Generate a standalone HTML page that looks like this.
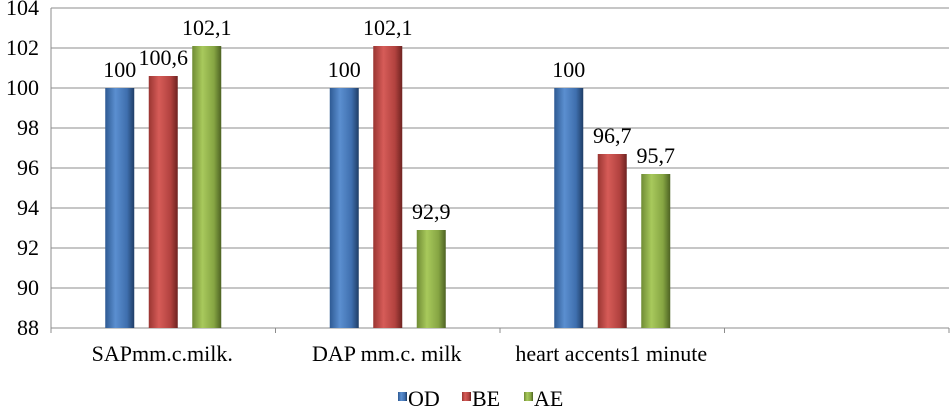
<!DOCTYPE html>
<html><head><meta charset="utf-8"><style>
body{margin:0;background:#fff}
svg{display:block;font-family:"Liberation Serif",serif}
</style></head><body>
<svg id="chart" width="951" height="407" viewBox="0 0 951 407" xmlns="http://www.w3.org/2000/svg">
<defs>
<linearGradient id="gOD" x1="0" x2="1"><stop offset="0" stop-color="#2e5a93"/><stop offset="0.35" stop-color="#5b8fd0"/><stop offset="0.75" stop-color="#3f6fae"/><stop offset="1" stop-color="#1f3d66"/></linearGradient>
<linearGradient id="gBE" x1="0" x2="1"><stop offset="0" stop-color="#9a3532"/><stop offset="0.35" stop-color="#d65c58"/><stop offset="0.75" stop-color="#b2423f"/><stop offset="1" stop-color="#6e2321"/></linearGradient>
<linearGradient id="gAE" x1="0" x2="1"><stop offset="0" stop-color="#6f8b34"/><stop offset="0.35" stop-color="#a8c95c"/><stop offset="0.75" stop-color="#86a543"/><stop offset="1" stop-color="#4d6223"/></linearGradient>
</defs>
<g id="grid"></g><g id="bars"></g><g id="labels"></g>
<g font-size="22">
<rect x="398" y="392" width="9" height="9" fill="url(#gOD)"/>
<text x="408" y="406">OD</text>
<rect x="462" y="392" width="9" height="9" fill="url(#gBE)"/>
<text x="472" y="406">BE</text>
<rect x="524" y="392" width="9" height="9" fill="url(#gAE)"/>
<text x="534" y="406">AE</text>
</g>
</svg>
<script>
const categories=["SAPmm.c.milk.","DAP mm.c. milk","heart accents1 minute",""];
const seriesNames=["OD","BE","AE"];
const odValues=[100,100,100,null];
const beValues=[100.6,102.1,96.7,null];
const aeValues=[102.1,92.9,95.7,null];
const valueLabels=[["100","100,6","102,1"],["100","102,1","92,9"],["100","96,7","95,7"]];
const yTicks=[88,90,92,94,96,98,100,102,104];
const NS="http://www.w3.org/2000/svg";
const L=51,R=949,T=8,B=328,yMin=88,yMax=104;
const y=v=>B-(v-yMin)/(yMax-yMin)*(B-T);
const cw=(R-L)/categories.length;
const cx=i=>L+cw*(i+0.5);
function mk(tag,attrs,parent){const e=document.createElementNS(NS,tag);for(const k in attrs)e.setAttribute(k,attrs[k]);parent.appendChild(e);return e;}
const grid=document.getElementById('grid'),bars=document.getElementById('bars'),labels=document.getElementById('labels');
yTicks.forEach(t=>{
 const ln=mk('line',{x1:L,x2:R,y1:y(t),y2:y(t),stroke:'#8c8c8c','stroke-width':1},grid);
 
 
 const tx=mk('text',{x:L-12,y:y(t)+7,'text-anchor':'end','font-size':22},labels);
 tx.textContent=t;
 
 
});
const ax=mk('line',{x1:L,x2:L,y1:T,y2:B+4,stroke:'#8c8c8c'},grid);


for(let i=0;i<=categories.length;i++){
 const tk=mk('line',{x1:L+cw*i,x2:L+cw*i,y1:B,y2:B+5,stroke:'#8c8c8c'},grid);
 
 
}
const series=[odValues,beValues,aeValues],fills=['url(#gOD)','url(#gBE)','url(#gAE)'];
const bw=29,step=43.5;
categories.forEach((c,i)=>{
 const t=mk('text',{x:cx(i)-1,y:361,'text-anchor':'middle','font-size':22},labels);
 t.textContent=c;
 
 
 series.forEach((s,j)=>{
  const v=s[i]; if(v==null)return;
  const x0=cx(i)+(j-1)*step-bw/2;
  const r=mk('rect',{x:x0,y:y(v),width:bw,height:B-y(v),fill:fills[j]},bars);
  
  
  const lt=mk('text',{x:x0+bw/2,y:y(v)-11,'text-anchor':'middle','font-size':22},labels);
  lt.textContent=valueLabels[i][j];
  
  
 });
});
</script>
</body></html>
